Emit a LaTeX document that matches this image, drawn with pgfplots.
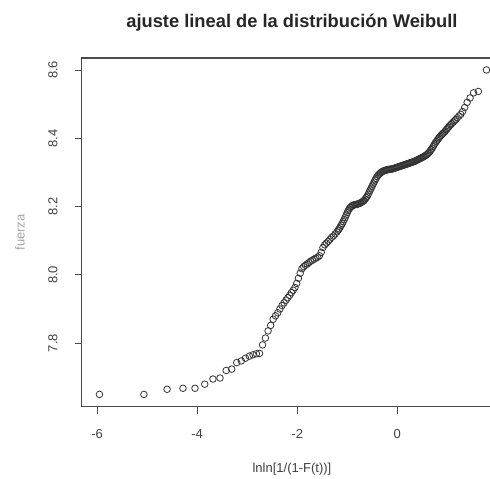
\documentclass[border=0pt]{standalone}
\usepackage{fontspec}
\setmainfont{Liberation Sans}
\usepackage{pgfplots}
\pgfplotsset{compat=1.18}
\usepackage{pgfplotstable}

% Weibull probability plot: x = lnln[1/(1-F(t))], y = fuerza
\pgfplotstableread{
x y
-5.955 7.650
-5.066 7.650
-4.602 7.665
-4.285 7.668
-4.044 7.668
-3.849 7.680
-3.685 7.695
-3.544 7.698
-3.420 7.720
-3.310 7.724
-3.210 7.743
-3.118 7.748
-3.034 7.756
-2.956 7.762
-2.884 7.766
-2.816 7.769
-2.753 7.770
-2.693 7.795
-2.636 7.815
-2.582 7.836
-2.530 7.852
-2.481 7.870
-2.434 7.880
-2.389 7.889
-2.346 7.900
-2.304 7.910
-2.264 7.918
-2.225 7.926
-2.188 7.933
-2.151 7.940
-2.115 7.948
-2.080 7.955
-2.045 7.963
-2.010 7.975
-1.975 7.990
-1.940 8.005
-1.905 8.018
-1.870 8.024
-1.835 8.028
-1.800 8.032
-1.765 8.036
-1.730 8.040
-1.695 8.043
-1.660 8.046
-1.625 8.049
-1.590 8.052
-1.555 8.056
-1.520 8.066
-1.485 8.080
-1.450 8.088
-1.415 8.093
-1.380 8.098
-1.345 8.104
-1.310 8.110
-1.275 8.114
-1.240 8.120
-1.205 8.126
-1.180 8.131
-1.160 8.135
-1.140 8.140
-1.120 8.145
-1.100 8.150
-1.080 8.156
-1.060 8.162
-1.040 8.168
-1.020 8.175
-1.000 8.182
-0.980 8.188
-0.960 8.193
-0.940 8.197
-0.920 8.200
-0.900 8.202
-0.880 8.204
-0.860 8.205
-0.840 8.206
-0.820 8.206
-0.800 8.207
-0.780 8.208
-0.760 8.209
-0.740 8.210
-0.720 8.212
-0.700 8.214
-0.680 8.216
-0.660 8.218
-0.640 8.222
-0.620 8.226
-0.600 8.230
-0.580 8.236
-0.560 8.242
-0.540 8.248
-0.520 8.254
-0.500 8.260
-0.480 8.266
-0.460 8.272
-0.440 8.278
-0.420 8.283
-0.400 8.288
-0.380 8.292
-0.360 8.295
-0.340 8.298
-0.320 8.300
-0.300 8.302
-0.280 8.304
-0.260 8.305
-0.240 8.306
-0.220 8.307
-0.200 8.308
-0.180 8.308
-0.160 8.309
-0.140 8.309
-0.120 8.310
-0.100 8.310
-0.080 8.311
-0.060 8.312
-0.040 8.313
-0.020 8.314
0.000 8.315
0.020 8.316
0.040 8.317
0.060 8.318
0.080 8.319
0.100 8.320
0.120 8.321
0.140 8.322
0.160 8.323
0.180 8.324
0.200 8.325
0.220 8.326
0.240 8.327
0.260 8.328
0.280 8.329
0.300 8.330
0.320 8.331
0.340 8.332
0.360 8.333
0.380 8.335
0.400 8.336
0.420 8.338
0.440 8.339
0.460 8.341
0.480 8.342
0.500 8.344
0.520 8.345
0.540 8.347
0.560 8.349
0.580 8.351
0.600 8.353
0.620 8.356
0.640 8.359
0.660 8.363
0.680 8.367
0.700 8.371
0.720 8.376
0.740 8.381
0.760 8.386
0.780 8.390
0.800 8.394
0.820 8.398
0.840 8.402
0.856 8.405
0.880 8.409
0.900 8.412
0.920 8.415
0.944 8.418
0.960 8.421
0.983 8.425
1.000 8.428
1.024 8.432
1.045 8.436
1.069 8.440
1.090 8.443
1.118 8.447
1.145 8.451
1.172 8.455
1.202 8.460
1.235 8.465
1.270 8.470
1.308 8.478
1.350 8.490
1.399 8.505
1.457 8.518
1.528 8.533
1.623 8.537
1.785 8.600
}\weibull

\begin{document}
\begin{tikzpicture}
\begin{axis}[
    scale only axis,
    width=420.5pt, height=348.7pt,
    xmin=-6.31, xmax=2.1,
    ymin=7.614, ymax=8.635,
    xtick={-6,-4,-2,0},
    ytick={7.8,8.0,8.2,8.4,8.6},
    xtick pos=bottom, ytick pos=left,
    /pgf/number format/fixed,
    /pgf/number format/fixed zerofill,
    /pgf/number format/precision=1,
    /pgf/number format/assume math mode=true,
    xticklabel={\pgfmathprintnumber[fixed,precision=0]{\tick}},
    tick align=outside,
    major tick length=7pt,
    tick style={black!70, line width=0.8pt},
    axis line style={black!70, line width=1.2pt},
    xticklabel style={font=\fontsize{13}{15}\selectfont, text=black!75, inner sep=0pt, anchor=north, yshift=-16pt},
    yticklabel style={font=\fontsize{13}{15}\selectfont, text=black!75, inner sep=0pt, rotate=90, anchor=south},
    yticklabel shift=17pt,
    xlabel={lnln[1/(1-F(t))]},
    ylabel={fuerza},
    xlabel style={font=\fontsize{13}{15}\selectfont, text=black!75, at={(axis description cs:0.5,0)}, anchor=center, yshift=-62pt},
    ylabel style={font=\fontsize{13}{15}\selectfont, text=black!35, at={(axis description cs:-0.147,0.5)}, anchor=center},
    title={ajuste lineal de la distribución Weibull},
    title style={font=\bfseries\fontsize{18.3}{21}\selectfont, text=black!85, at={(axis description cs:0.5,1)}, anchor=center, yshift=29pt},
]
\addplot[only marks, mark=o, mark size=3.3pt, mark options={black!80, line width=0.8pt}] table[x=x, y=y] {\weibull};
\end{axis}
\pgfresetboundingbox
\path[use as bounding box] ([xshift=-81.7pt,yshift=-72.3pt]current axis.south west) rectangle ([xshift=408.3pt,yshift=406.7pt]current axis.south west);
\end{tikzpicture}
\end{document}
